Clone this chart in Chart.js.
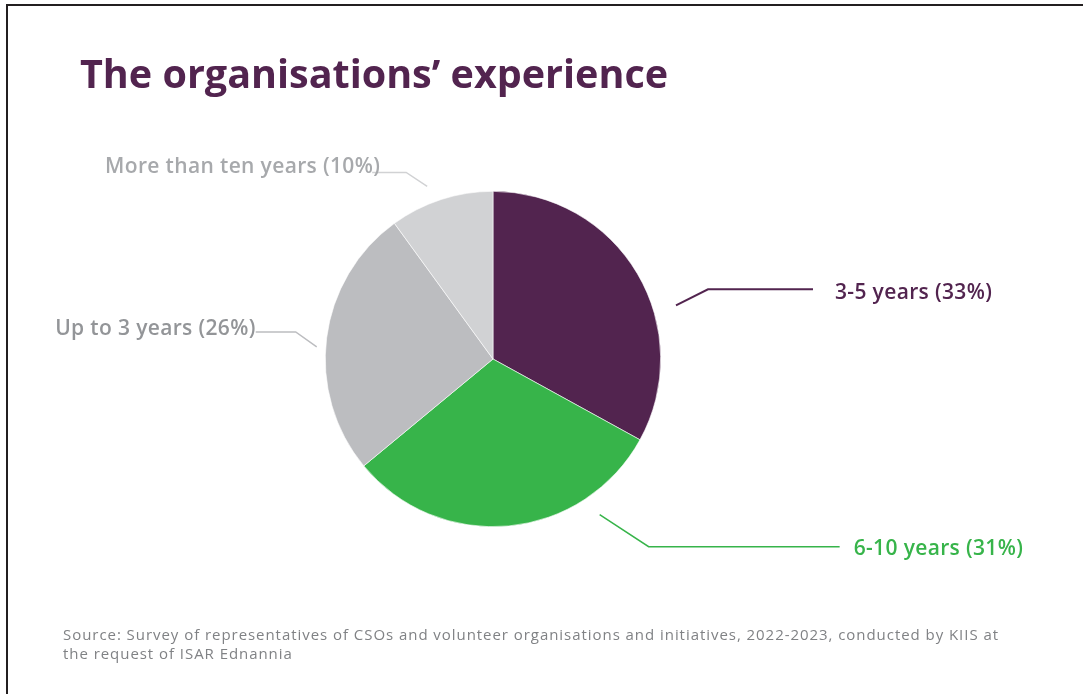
<!DOCTYPE html>
<html>
<head>
<meta charset="utf-8">
<title>The organisations’ experience</title>
<script src="https://cdn.jsdelivr.net/npm/chart.js@4.4.1/dist/chart.umd.min.js"></script>
<style>
  html, body { margin: 0; padding: 0; background: #fff; }
  #wrap { position: relative; width: 1083px; height: 694px; overflow: hidden; }
  canvas { display: block; }
</style>
</head>
<body>
<div id="wrap">
  <canvas id="experiencia" width="1083" height="694"></canvas>
</div>
<script>
// dados
const categorias = ['3-5 years', '6-10 years', 'Up to 3 years', 'More than ten years'];
const percentuais = [33, 31, 26, 10];
const cores = ['#52244f', '#37b44a', '#bcbdc0', '#d1d2d4'];
const coresTexto = ['#52244f', '#37b44a', '#939598', '#a7a9ac'];
const titulo = 'The organisations’ experience';
const fonte = [
  'Source: Survey of representatives of CSOs and volunteer organisations and initiatives, 2022-2023, conducted by KIIS at',
  'the request of ISAR Ednannia'
];

// onde cada linha-guia sai da fatia e para onde vai
const guias = [
  { frac: 0.62, gap: 23, dx: 32, dy: -16, len: 105, textoGap: 22, textoDy: 4, lado: 'dir', largura: 2 },
  { frac: 0.24, gap: 21, dx: 49, dy: 32, len: 191, textoGap: 14, textoDy: 2, lado: 'dir', largura: 1.5 },
  { frac: 0.465, gap: 9, dx: -21, dy: -15, len: 40, textoGap: 0, textoDy: -3, lado: 'esq', largura: 1.5 },
  { frac: 0.42, gap: 17, dx: -21, dy: -14, len: 34, textoGap: -8, textoDy: -5, lado: 'esq', largura: 1.5 }
];

const rotulos = {
  id: 'rotulos',
  afterDatasetsDraw(chart) {
    const ctx = chart.ctx;
    const meta = chart.getDatasetMeta(0);
    ctx.save();
    meta.data.forEach((arc, i) => {
      const p = arc.getProps(['x', 'y', 'startAngle', 'endAngle', 'outerRadius'], true);
      const g = guias[i];
      const ang = p.startAngle + g.frac * (p.endAngle - p.startAngle);
      const x0 = p.x + Math.cos(ang) * (p.outerRadius + g.gap);
      const y0 = p.y + Math.sin(ang) * (p.outerRadius + g.gap);
      const x1 = x0 + g.dx;
      const y1 = y0 + g.dy;
      const sinal = g.lado === 'dir' ? 1 : -1;
      const x2 = x1 + sinal * g.len;

      ctx.strokeStyle = cores[i];
      ctx.lineWidth = g.largura;
      ctx.beginPath();
      ctx.moveTo(x0, y0);
      ctx.lineTo(x1, y1);
      ctx.lineTo(x2, y1);
      ctx.stroke();

      const txt = categorias[i] + ' (' + percentuais[i] + '%)';
      ctx.font = '600 21px "Open Sans", sans-serif';
      ctx.letterSpacing = '0.35px';
      ctx.fillStyle = coresTexto[i];
      ctx.textBaseline = 'middle';
      ctx.textAlign = g.lado === 'dir' ? 'left' : 'right';
      ctx.fillText(txt, x2 + sinal * g.textoGap, y1 + g.textoDy);
    });
    ctx.restore();
  }
};

const moldura = {
  id: 'moldura',
  afterDraw(chart) {
    const ctx = chart.ctx;
    ctx.save();
    // borda superior e esquerda
    ctx.strokeStyle = '#231f20';
    ctx.lineWidth = 2;
    ctx.beginPath();
    ctx.moveTo(1083, 5);
    ctx.lineTo(7, 5);
    ctx.lineTo(7, 694);
    ctx.stroke();

    ctx.fillStyle = '#52244f';
    ctx.font = 'bold 39.5px "Open Sans", sans-serif';
    ctx.textBaseline = 'alphabetic';
    ctx.textAlign = 'left';
    ctx.fillText(titulo, 80, 88);

    ctx.fillStyle = '#808285';
    ctx.font = '15px "Open Sans", sans-serif';
    ctx.letterSpacing = '0.95px';
    ctx.fillText(fonte[0], 63, 640);
    ctx.fillText(fonte[1], 63, 659);
    ctx.restore();
  }
};

const ctxPizza = document.getElementById('experiencia').getContext('2d');

const graficoPizza = new Chart(ctxPizza, {
  type: 'pie',
  data: {
    labels: categorias,
    datasets: [{
      data: percentuais,
      backgroundColor: cores,
      borderColor: '#ffffff',
      borderWidth: 0.6
    }]
  },
  options: {
    responsive: false,
    animation: false,
    devicePixelRatio: 1,
    layout: { padding: { top: 191, bottom: 167, left: 325, right: 422 } },
    plugins: {
      legend: { display: false },
      tooltip: { enabled: false },
      title: { display: false }
    }
  },
  plugins: [rotulos, moldura]
});
</script>
</body>
</html>
